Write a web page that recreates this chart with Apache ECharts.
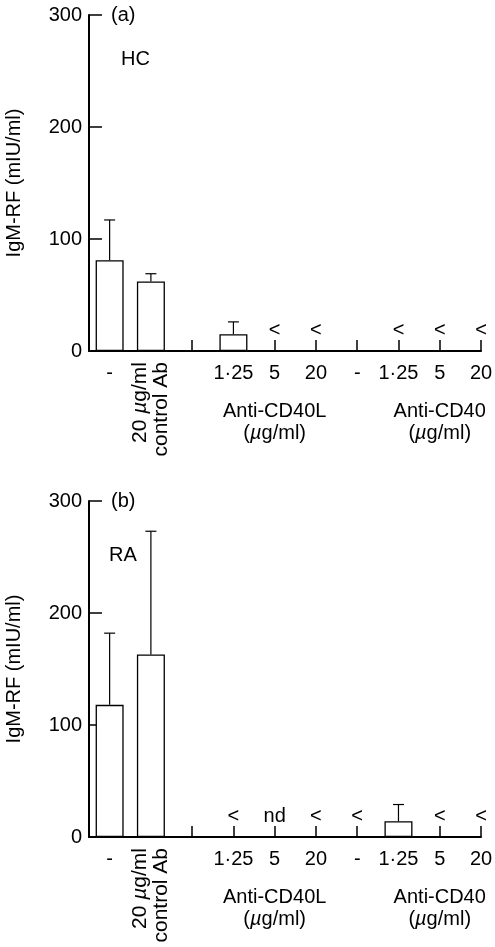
<!DOCTYPE html>
<html><head><meta charset="utf-8">
<script src="https://cdn.jsdelivr.net/npm/echarts@6/dist/echarts.min.js"></script>
<style>html,body{margin:0;padding:0;background:#fff}#c{width:495px;height:947px}</style>
</head><body><div id="c"></div>
<script>
// ---- data ----
const categories = ['-', '20 µg/ml\ncontrol Ab', '', '1·25', '5', '20', '-', '1·25', '5', '20'];
const groupLabelAt = [4, 8];
const groupLabels = ['Anti-CD40L', 'Anti-CD40'];
const yTicks = [0, 100, 200, 300];
const panelTags = ['(a)', '(b)'];
const panelNames = ['HC', 'RA'];
const hcMeans  = [81, 62, null, 15, null, null, null, null, null, null];
const hcErrors = [36, 7, null, 11, null, null, null, null, null, null];
const hcNotes  = ['', '', '', '', '<', '<', '', '<', '<', '<'];
const raMeans  = [118, 163, null, null, null, null, null, 14, null, null];
const raErrors = [64, 110, null, null, null, null, null, 15, null, null];
const raNotes  = ['', '', '', '<', 'nd', '<', '<', '', '<', '<'];

// ---- chart ----
const FONT = "'Liberation Sans', Arial, Helvetica, sans-serif";
const catIdx = categories.map((_, i) => i);
const chart = echarts.init(document.getElementById('c'), null, {renderer: 'canvas'});

const grids = [
  {left: 89, right: 14, top: 15, height: 336, containLabel: false, outerBoundsMode: 'none'},
  {left: 89, right: 14, top: 501, height: 336, containLabel: false, outerBoundsMode: 'none'}
];
const xAxis = [], yAxis = [], series = [], title = [];
const panels = [
  {means: hcMeans, errs: hcErrors, notes: hcNotes},
  {means: raMeans, errs: raErrors, notes: raNotes}
];
const tagTops = [[5, 49], [491, 545]];

panels.forEach((p, g) => {
  const base = {type: 'value', gridIndex: g, min: -0.5, max: 9, position: 'bottom', splitLine: {show: false}};
  // main axis: line, ticks, horizontal labels
  xAxis.push(Object.assign({}, base, {
    axisLine: {show: true, onZero: false, lineStyle: {color: '#000', width: 2}},
    axisTick: {show: true, inside: true, length: 11, lineStyle: {color: '#000', width: 1.5}, customValues: catIdx},
    axisLabel: {show: true, customValues: catIdx.filter(i => i !== 1), margin: 12, fontSize: 20, color: '#000', fontFamily: FONT,
      formatter: v => categories[Math.round(v)]}
  }));
  // rotated label
  xAxis.push(Object.assign({}, base, {
    axisLine: {show: false, onZero: false}, axisTick: {show: false},
    axisLabel: {show: true, customValues: [1], rotate: 90, margin: 11, fontFamily: FONT, color: '#000', lineHeight: 21,
      formatter: v => categories[Math.round(v)].split('\n').map(l => l.replace('µ', '}{mu|µ}{n|')).map(l => '{n|' + l + '}').join('\n'),
      rich: {n: {fontSize: 21, fontFamily: FONT, color: '#000', lineHeight: 21}, mu: {fontSize: 21, fontFamily: FONT, fontStyle: 'italic', color: '#000', lineHeight: 21}}}
  }));
  // group labels
  xAxis.push(Object.assign({}, base, {
    axisLine: {show: false, onZero: false}, axisTick: {show: false},
    axisLabel: {show: true, customValues: groupLabelAt, margin: 49, fontFamily: FONT, color: '#000', lineHeight: 22,
      formatter: v => '{n|' + groupLabels[groupLabelAt.indexOf(Math.round(v))] + '}\n{n|(}{mu|µ}{n|g/ml)}',
      rich: {n: {fontSize: 20, fontFamily: FONT, color: '#000', lineHeight: 22}, mu: {fontSize: 20, fontFamily: FONT, fontStyle: 'italic', color: '#000', lineHeight: 22}}}
  }));
  yAxis.push({
    type: 'value', gridIndex: g, min: yTicks[0], max: yTicks[yTicks.length - 1], interval: 100,
    name: 'IgM-RF (mIU/ml)', nameLocation: 'middle', nameGap: 65, nameRotate: 90,
    nameTextStyle: {fontSize: 20, fontFamily: FONT, color: '#000'},
    axisLine: {show: true, onZero: false, lineStyle: {color: '#000', width: 2}},
    axisTick: {show: true, inside: true, length: 13, lineStyle: {color: '#000', width: 1.5}},
    axisLabel: {fontSize: 20, fontFamily: FONT, color: '#000', margin: 7},
    splitLine: {show: false}
  });
  const xi = g * 3;
  const barData = [], errData = [], noteData = [];
  p.means.forEach((m, i) => {
    if (m !== null) { barData.push([i, m]); errData.push([i, m, p.errs[i]]); }
    if (p.notes[i]) noteData.push([i, 0, p.notes[i]]);
  });
  series.push({
    type: 'bar', xAxisIndex: xi, yAxisIndex: g, data: barData, barWidth: 28, silent: true,
    itemStyle: {color: '#fff', borderColor: '#000', borderWidth: 1.3}
  });
  series.push({
    type: 'custom', xAxisIndex: xi, yAxisIndex: g, data: errData, silent: true, z: 3,
    renderItem: (params, api) => {
      const x = api.value(0), y = api.value(1), e = api.value(2);
      const b = api.coord([x, y]), t = api.coord([x, y + e]);
      const st = {stroke: '#000', lineWidth: 1.2};
      return {type: 'group', children: [
        {type: 'line', shape: {x1: b[0], y1: b[1], x2: t[0], y2: t[1]}, style: st},
        {type: 'line', shape: {x1: t[0] - 5.5, y1: t[1], x2: t[0] + 5.5, y2: t[1]}, style: st}
      ]};
    }
  });
  series.push({
    type: 'scatter', xAxisIndex: xi, yAxisIndex: g, data: noteData, symbolSize: 0, silent: true,
    itemStyle: {color: '#000', opacity: 1},
    label: {show: true, position: 'top', distance: 11, fontSize: 20, fontFamily: FONT, color: '#000', opacity: 1,
      formatter: q => q.value[2]}
  });
  title.push({text: panelTags[g], left: 111, top: tagTops[g][0], padding: 0,
    textStyle: {fontSize: 20, fontWeight: 'normal', fontFamily: FONT, color: '#000'}});
  title.push({text: panelNames[g], left: g === 0 ? 121 : 109, top: tagTops[g][1], padding: 0,
    textStyle: {fontSize: 20, fontWeight: 'normal', fontFamily: FONT, color: '#000'}});
});

chart.setOption({
  animation: false,
  backgroundColor: '#fff',
  title: title,
  grid: grids,
  xAxis: xAxis,
  yAxis: yAxis,
  series: series
});
</script>
</body></html>
